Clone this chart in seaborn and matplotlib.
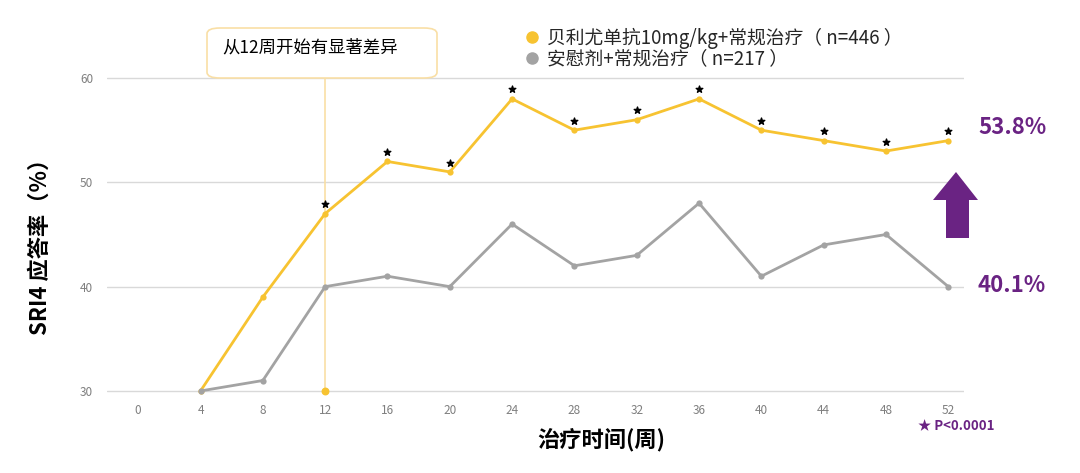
"""SRI4 response rate over time: belimumab vs placebo."""

import matplotlib.pyplot as plt
import pandas as pd
import seaborn as sns
from matplotlib.lines import Line2D
from matplotlib.patches import FancyBboxPatch, Polygon

weeks = [4, 8, 12, 16, 20, 24, 28, 32, 36, 40, 44, 48, 52]
drug_rate = [30, 39, 47, 52, 51, 58, 55, 56, 58, 55, 54, 53, 54]
placebo_rate = [30, 31, 40, 41, 40, 46, 42, 43, 48, 41, 44, 45, 40]
star_weeks = [12, 16, 20, 24, 28, 32, 36, 40, 44, 48, 52]
x_ticks = list(range(0, 56, 4))
y_ticks = [30, 40, 50, 60]

drug_label = "贝利尤单抗10mg/kg+常规治疗（ n=446 ）"
placebo_label = "安慰剂+常规治疗（ n=217 ）"

YELLOW = "#F7C331"
GRAY = "#A3A3A3"
PURPLE = "#6A2383"
LINE_YELLOW = "#F9DFA6"

sns.set_theme(style="white")
plt.rcParams["font.family"] = ["Noto Sans CJK SC", "DejaVu Sans"]

df = pd.DataFrame({
    "week": weeks * 2,
    "rate": drug_rate + placebo_rate,
    "group": [drug_label] * len(weeks) + [placebo_label] * len(weeks),
})

fig = plt.figure(figsize=(10.8, 4.73), dpi=100)
ax = fig.add_axes([0.0991, 0.1514, 0.7934, 0.7057])

# highlight line at week 12, from the callout box down to the axis
ax.plot([12, 12], [30, 62.3], color=LINE_YELLOW, lw=1.2, clip_on=False, zorder=1)
ax.scatter([12], [30], color=YELLOW, s=22, zorder=4, clip_on=False)

sns.lineplot(data=df, x="week", y="rate", hue="group",
             palette={drug_label: YELLOW, placebo_label: GRAY},
             marker="o", markersize=4.5, markeredgewidth=0, linewidth=2,
             legend=False, ax=ax, zorder=3)

star_y = [drug_rate[weeks.index(w)] + 0.9 for w in star_weeks]
ax.scatter(star_weeks, star_y, marker="*", color="black", s=25, zorder=5)

ax.set_xlim(-2, 53)
ax.set_ylim(29, 61)
ax.set_xticks(x_ticks)
ax.set_yticks(y_ticks)
ax.tick_params(axis="both", colors="#7F7F7F", labelsize=8.5, length=0)
ax.tick_params(axis="x", pad=2)
ax.tick_params(axis="y", pad=10)
ax.yaxis.grid(True, color="#D9D9D9", lw=1)
ax.xaxis.grid(False)
for s in ax.spines.values():
    s.set_visible(False)
ax.set_xlabel("")
ax.set_ylabel("")

fig.text(0.037, 0.49, "SRI4 应答率（%）", rotation=90, ha="center", va="center",
         fontsize=16, fontweight="bold", color="black")
fig.text(601 / 1080, 1 - 440 / 473, "治疗时间(周)", ha="center", va="center",
         fontsize=16, fontweight="bold", color="black")

# callout box
box = FancyBboxPatch((207 / 1080, 1 - 78 / 473), 230 / 1080, 50 / 473,
                     boxstyle="round,pad=0,rounding_size=0.012",
                     transform=fig.transFigure, facecolor="white",
                     edgecolor=LINE_YELLOW, lw=1.2)
fig.add_artist(box)
fig.text(222 / 1080, 1 - 47 / 473, "从12周开始有显著差异", ha="left", va="center",
         fontsize=12.5, color="black")

handles = [Line2D([], [], marker="o", ls="", color=YELLOW, markersize=8),
           Line2D([], [], marker="o", ls="", color=GRAY, markersize=8)]
fig.legend(handles, [drug_label, placebo_label], loc="upper left",
           bbox_to_anchor=(513 / 1080, 1 - 18 / 473), frameon=False,
           fontsize=13.5, handletextpad=0.3, labelspacing=0.0,
           borderpad=0, handlelength=1)

fig.text(978 / 1080, 1 - 128 / 473, "53.8%", ha="left", va="center",
         fontsize=16, fontweight="bold", color=PURPLE)
fig.text(978 / 1080, 1 - 285 / 473, "40.1%", ha="left", va="center",
         fontsize=16, fontweight="bold", color=PURPLE)
fig.text(995 / 1080, 1 - 426 / 473, "★ P<0.0001", ha="right", va="center",
         fontsize=9.5, fontweight="bold", color=PURPLE)

# up arrow between the two end values
pts = [(946, 238), (969, 238), (969, 200), (978, 200), (956, 172),
       (933, 200), (946, 200)]
arrow = Polygon([(x / 1080, 1 - y / 473) for x, y in pts], closed=True,
                transform=fig.transFigure, facecolor=PURPLE, edgecolor="none")
fig.add_artist(arrow)

fig.savefig("out.png", dpi=100)
plt.close(fig)
